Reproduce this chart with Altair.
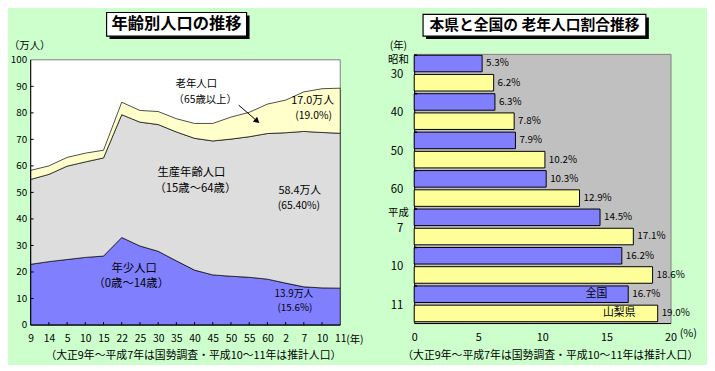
import altair as alt
import pandas as pd

FONT = "Noto Sans CJK JP"

# ---------------- left panel data ----------------
x_labels = ["9", "14", "5", "10", "15", "22", "25", "30", "35", "40", "45", "50",
            "55", "60", "2", "7", "10", "11"]
young = [22.9, 23.9, 24.7, 25.5, 26.0, 33.0, 29.8, 27.8, 24.2, 20.7, 18.9, 18.4,
         18.0, 17.3, 15.8, 14.4, 14.0, 13.9]
working = [32.0, 32.9, 35.2, 36.0, 37.0, 46.3, 46.7, 47.8, 48.6, 49.7, 50.5, 51.7,
           53.0, 54.9, 56.7, 58.6, 58.6, 58.4]
elderly = [3.4, 3.2, 3.3, 3.3, 2.9, 4.7, 4.4, 4.9, 5.0, 5.6, 6.6, 8.3,
           9.2, 11.1, 12.3, 14.9, 16.5, 17.0]
y_ticks = [0, 10, 20, 30, 40, 50, 60, 70, 80, 90, 100]
series_names = ["年少人口", "生産年齢人口", "老年人口"]
series_colors = ["#8080FF", "#DDDDDD", "#FFFFCC"]

# ---------------- right panel data ----------------
group_years = ["30", "40", "50", "60", "7", "10", "11"]
group_eras = ["昭和", "", "", "", "平成", "", ""]
national = [5.3, 6.3, 7.9, 10.3, 14.5, 16.2, 16.7]
yamanashi = [6.2, 7.8, 10.2, 12.9, 17.1, 18.6, 19.0]
x_ticks_r = [0, 5, 10, 15, 20]
bar_series = ["全国", "山梨県"]
bar_colors = ["#8080FF", "#FFFF99"]

footnote = "（大正9年～平成7年は国勢調査・平成10～11年は推計人口）"

# ---------------- helpers ----------------
ONE = pd.DataFrame({"a": [0]})


def txt(s, x, y, size=11, align="center", weight="normal", baseline="middle"):
    return alt.Chart(ONE).mark_text(
        font=FONT, fontSize=size, align=align, baseline=baseline,
        fontWeight=weight, color="black"
    ).encode(x=alt.value(x), y=alt.value(y), text=alt.value(s))


def box(x0, x1, y0, y1, fill, stroke=None, sw=1.5):
    kw = dict(fill=fill)
    if stroke:
        kw.update(stroke=stroke, strokeWidth=sw)
    return alt.Chart(ONE).mark_rect(**kw).encode(
        x=alt.value(x0), x2=alt.value(x1), y=alt.value(y0), y2=alt.value(y1))


def title_box(s, x0, x1, y0, y1, size):
    return [
        box(x0 + 3, x1 + 3, y0 + 3, y1 + 3, "black"),
        box(x0, x1, y0, y1, "white", "black", 1.2),
        txt(s, (x0 + x1) / 2, (y0 + y1) / 2, size=size, weight="bold"),
    ]


# ---------------- left panel ----------------
LW, LH = 314, 275
PLOT_H = 269
YMAX = 100 * LH / PLOT_H

n = len(x_labels)
rows = []
for i in range(n):
    for k, (nm, arr) in enumerate(zip(series_names, [young, working, elderly])):
        rows.append({"i": i, "series": nm, "value": arr[i], "order": k})
df_area = pd.DataFrame(rows)

label_expr = "[" + ",".join("'%s'" % l for l in x_labels) + "][datum.value]"
x_axis_l = alt.Axis(values=list(range(n)), labelExpr=label_expr, domain=False, ticks=False,
                    grid=False, labelPadding=9, labelFontSize=10.5, labelAngle=0,
                    labelFlush=False, labelOverlap=False, title=None, labelFont=FONT,
                    labelColor="black")
y_axis_l = alt.Axis(values=y_ticks, domain=False, ticks=False, grid=False, labelPadding=4,
                    labelFontSize=10, title=None, labelFont=FONT, labelColor="black")
x_scale_l = alt.Scale(domain=[0, n - 1], nice=False, zero=False)
y_scale_l = alt.Scale(domain=[0, YMAX], nice=False)


def xl(f):
    return alt.X(f + ":Q", scale=x_scale_l, axis=x_axis_l)


def yl(f, **kw):
    return alt.Y(f + ":Q", scale=y_scale_l, axis=y_axis_l, **kw)


anchor = alt.Chart(ONE).mark_rect(opacity=0).encode(
    x=alt.value(-22), x2=alt.value(685), y=alt.value(-43), y2=alt.value(312))

frame = alt.Chart(pd.DataFrame({"i0": [0], "i1": [n - 1], "y0": [0], "y1": [100]})).mark_rect(
    fill="white", stroke="#808080", strokeWidth=1
).encode(x=xl("i0"), x2="i1", y=yl("y0"), y2="y1")

areas = alt.Chart(df_area).mark_area(stroke="black", strokeWidth=0.7).encode(
    x=xl("i"),
    y=yl("value", stack="zero"),
    order=alt.Order("order:Q"),
    color=alt.Color("series:N", scale=alt.Scale(domain=series_names, range=series_colors),
                    legend=None),
)

axis_left = alt.Chart(pd.DataFrame({"i": [0], "a": [0], "b": [100]})).mark_rule(
    color="black", strokeWidth=1).encode(x=xl("i"), y=yl("a"), y2="b")
axis_bottom = alt.Chart(pd.DataFrame({"a": [0], "b": [n - 1], "y": [0]})).mark_rule(
    color="black", strokeWidth=1).encode(x=xl("a"), x2="b", y=yl("y"))
yticks_in = alt.Chart(pd.DataFrame({"t": y_ticks[1:-1]})).mark_rule(
    color="black").encode(y=yl("t"), x=alt.value(0), x2=alt.value(3))
xticks_in = alt.Chart(pd.DataFrame({"i": list(range(1, n - 1))})).mark_rule(
    color="black").encode(x=xl("i"), y=alt.value(LH), y2=alt.value(LH - 3))

arrow_line = alt.Chart(ONE).mark_rule(color="black", strokeWidth=1).encode(
    x=alt.value(211), y=alt.value(52), x2=alt.value(229), y2=alt.value(67.5))
arrow_head = alt.Chart(ONE).mark_point(shape="triangle", filled=True, size=45, angle=130,
                                       color="black", opacity=1).encode(
    x=alt.value(229), y=alt.value(67.5))

left_layers = [anchor, frame, areas, axis_left, axis_bottom, yticks_in, xticks_in,
               arrow_line, arrow_head,
               txt("（万人）", -22, -8, size=10.5, align="left"),
               txt("(年)", 320, 290, size=10.5, align="left"),
               txt("老年人口", 168, 31, size=10.5),
               txt("（65歳以上）", 177, 47, size=10.5),
               txt("17.0万人", 286, 48, size=11),
               txt("(19.0%)", 287, 63, size=10.5),
               txt("生産年齢人口", 163, 121, size=11.5),
               txt("（15歳～64歳）", 167, 137, size=11.5),
               txt("58.4万人", 273, 139, size=11),
               txt("(65.40%)", 272, 154, size=10.5),
               txt("年少人口", 105, 218, size=11.5),
               txt("（0歳～14歳）", 102, 233, size=11.5),
               txt("13.9万人", 267, 244, size=10),
               txt("(15.6%)", 268, 258, size=10),
               txt(footnote, 165, 306, size=11),
               ] + title_box("年齢別人口の推移", 77, 219, -42, -18, 16.5)

left = alt.layer(*left_layers).properties(
    width=LW, height=LH,
    view=alt.ViewBackground(fill="transparent", stroke="transparent"),
)

# ---------------- right panel ----------------
RW, RH = 260, 273
keys, vals, sers = [], [], []
for g in range(len(group_years)):
    keys += ["g%da" % g, "g%db" % g]
    vals += [national[g], yamanashi[g]]
    sers += bar_series
df_bars = pd.DataFrame({"key": keys, "value": vals, "series": sers})
df_groups = pd.DataFrame({"key": ["g%da" % g for g in range(len(group_years))],
                          "num": group_years, "era": group_eras})

y_scale_r = alt.Scale(domain=keys, paddingInner=0.14, paddingOuter=0.07)
y_axis_r = alt.Axis(labels=False, ticks=False, domain=True, domainColor="black",
                    domainWidth=1, grid=False, title=None)
x_axis_r = alt.Axis(values=x_ticks_r, grid=False, ticks=False, domainColor="black",
                    domainWidth=1, labelPadding=9, labelFontSize=11, labelFlush=False,
                    title=None, labelFont=FONT, labelColor="black")
x_scale_r = alt.Scale(domain=[0, 20], nice=False)


def yr(**kw):
    return alt.Y("key:N", scale=y_scale_r, axis=y_axis_r, sort=keys, **kw)


bars = alt.Chart(df_bars).mark_bar(stroke="black", strokeWidth=1).encode(
    x=alt.X("value:Q", scale=x_scale_r, axis=x_axis_r),
    y=yr(),
    color=alt.Color("series:N", scale=alt.Scale(domain=bar_series, range=bar_colors),
                    legend=None),
)
bar_labels = alt.Chart(df_bars).transform_calculate(
    lab="format(datum.value, '.1f') + '%'"
).mark_text(align="left", dx=4, font=FONT, fontSize=10, color="black", baseline="middle").encode(
    x=alt.X("value:Q", scale=x_scale_r, axis=x_axis_r),
    y=yr(),
    text="lab:N",
)
num_labels = alt.Chart(df_groups).mark_text(
    align="right", dy=11.5, font=FONT, fontSize=11.5, color="black", baseline="middle"
).encode(x=alt.value(-11), y=yr(), text="num:N")
era_labels = alt.Chart(df_groups).mark_text(
    align="center", dy=-4, font=FONT, fontSize=10.5, color="black", baseline="middle"
).encode(x=alt.value(-16), y=yr(), text="era:N")
group_ticks = alt.Chart(df_groups).mark_rule(color="black", strokeWidth=1.5).encode(
    y=yr(bandPosition=0), x=alt.value(0), x2=alt.value(3))

df_names = pd.DataFrame({"key": [keys[-2], keys[-1]], "name": bar_series})
name_labels = alt.Chart(df_names).mark_text(
    align="center", font=FONT, fontSize=11, color="black", baseline="middle"
).encode(
    x=alt.X("pos:Q", scale=None),
    y=yr(),
    text="name:N",
).transform_calculate(pos="datum.name == '全国' ? 185 : 208")

right_layers = [bars, bar_labels, num_labels, era_labels, group_ticks, name_labels,
                txt("(年)", -16, -8, size=10.5),
                txt("(%)", 278, 284, size=11),
                txt(footnote, 138, 306, size=11),
                ] + title_box("本県と全国の 老年人口割合推移", 9, 235, -40, -18, 15)

right = alt.layer(*right_layers).properties(
    width=RW, height=RH,
    view=alt.ViewBackground(fill="#C0C0C0", stroke="#808080", strokeWidth=1),
)

chart = alt.hconcat(left, right, spacing=75, bounds="flush").resolve_scale(
    color="independent", x="independent", y="independent"
).properties(
    padding=0,
    autosize=alt.AutoSizeParams(type="pad"),
    background="#CCFFCC",
).configure(font=FONT)

chart.save("out.html", embed_options={"renderer": "svg", "actions": False})
